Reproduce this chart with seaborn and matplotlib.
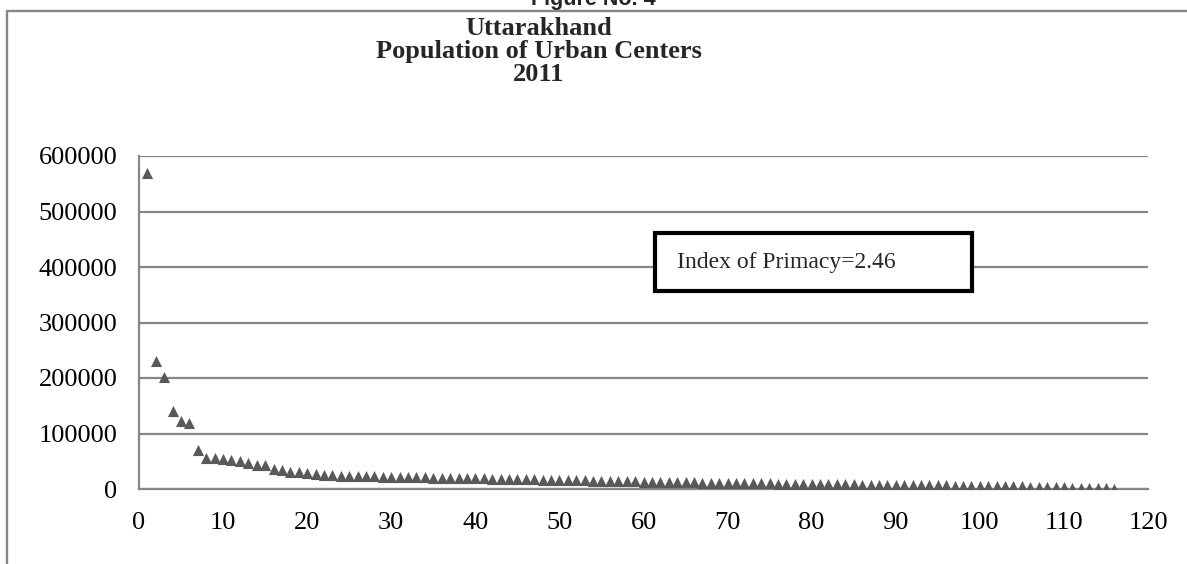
import matplotlib
matplotlib.use("Agg")
import matplotlib.pyplot as plt
import seaborn as sns
import pandas as pd
from matplotlib.lines import Line2D
from matplotlib.patches import Rectangle
from matplotlib.ticker import FuncFormatter

# ---- data ----
rank = list(range(1, 117))
population = [
    569578, 231338, 201461, 140884, 121623, 118188, 70500, 56000, 55000, 53500,
    52800, 50500, 47000, 43000, 42800, 35500, 34000, 31000, 30500, 29300,
    27000, 25500, 24500, 23800, 23500, 23200, 22900, 22600, 22300, 22000,
    21700, 21400, 21100, 20900, 20600, 20400, 20100, 19900, 19700, 19400,
    19100, 18800, 18500, 18200, 17900, 17600, 17300, 17000, 16700, 16400,
    16100, 15800, 15500, 15200, 14900, 14600, 14300, 14000, 13700, 13400,
    13100, 12800, 12500, 12300, 12100, 11900, 11700, 11500, 11300, 11100,
    10900, 10700, 10500, 10300, 10100, 9900, 9700, 9500, 9300, 9100,
    8900, 8700, 8500, 8300, 8200, 8000, 7800, 7700, 7500, 7400,
    7200, 7100, 6900, 6800, 6600, 6500, 6300, 6200, 6000, 5900,
    5700, 5500, 5300, 5100, 4800, 4400, 4000, 3600, 3200, 2900,
    2600, 2300, 2000, 1700, 1300, 600,
]
x_ticks = list(range(0, 121, 10))
y_ticks = list(range(0, 600001, 100000))
fig_label = "Figure No. 4"
title_lines = ["Uttarakhand", "Population of Urban Centers", "2011"]
note_text = "Index of Primacy=2.46"

df = pd.DataFrame({"rank": rank, "population": population})

sns.set_style("white")
plt.rcParams["font.family"] = ["Liberation Serif", "DejaVu Serif"]

W, H = 1187, 564
fig = plt.figure(figsize=(W / 100, H / 100), dpi=100)
ax = fig.add_axes([139 / W, 1 - 489 / H, (1148 - 139) / W, (489 - 156) / H])

grid_c = "#878787"
sns.scatterplot(data=df, x="rank", y="population", marker="^", s=64,
                color="#595959", linewidth=0, ax=ax, zorder=3, legend=False)

ax.set_xlim(0, 120)
ax.set_ylim(0, 600000)
ax.set_xticks(x_ticks)
ax.set_yticks(y_ticks)
ax.yaxis.set_major_formatter(FuncFormatter(lambda v, p: f"{int(v)}"))
ax.set_xlabel("")
ax.set_ylabel("")
ax.grid(axis="y", color=grid_c, linewidth=1.6)
ax.grid(axis="x", visible=False)
ax.set_axisbelow(True)
for s in ["top", "right"]:
    ax.spines[s].set_visible(False)
for s in ["left", "bottom"]:
    ax.spines[s].set_color(grid_c)
    ax.spines[s].set_linewidth(1.6)
ax.tick_params(axis="both", direction="out", length=5.5, width=1.5,
               color=grid_c, labelsize=19, labelcolor="black")
ax.tick_params(axis="x", pad=11)
ax.tick_params(axis="y", pad=10)

# outer frame
fc = "#868686"
fig.add_artist(Line2D([6.7 / W, 6.7 / W], [0, 1 - 11 / H], color=fc, lw=1.7,
                      transform=fig.transFigure))
fig.add_artist(Line2D([6.7 / W, 1], [1 - 11 / H, 1 - 11 / H], color=fc, lw=1.7,
                      transform=fig.transFigure))

# figure label (partly cut off at the top, as in the reference)
fig.text(593 / W, 1 - 5 / H, fig_label, ha="center", va="baseline",
         fontsize=15.5, fontweight="bold",
         family=["Liberation Sans", "DejaVu Sans"])

# title
fig.text(538.5 / W, 1 - 17 / H, "\n".join(title_lines), ha="center", va="top",
         fontsize=19, fontweight="bold", linespacing=1.0)

# annotation box
fig.add_artist(Rectangle((655 / W, 1 - 291 / H), (972 - 655) / W, (291 - 233) / H,
                         fill=True, facecolor="white", edgecolor="black",
                         lw=3, transform=fig.transFigure, zorder=5))
fig.text(677 / W, 1 - 262 / H, note_text, ha="left", va="center",
         fontsize=17, zorder=6)

fig.savefig("out.png", dpi=100)
